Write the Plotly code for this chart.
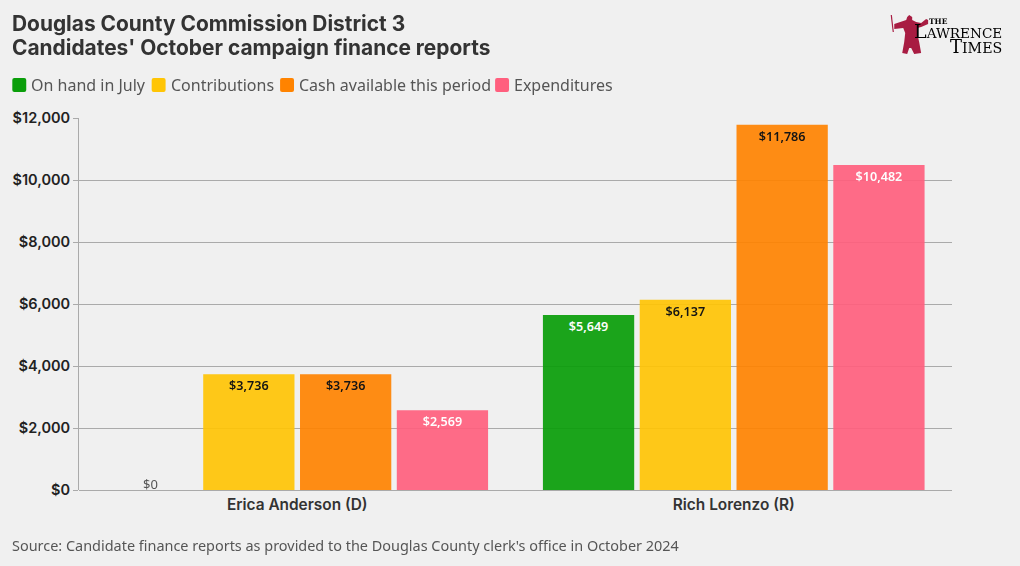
import plotly.graph_objects as go

W, H = 1020, 566
L, R, T, B = 75, 952, 118, 490
FONT = "Inter"
BODY = "Noto Sans"

candidates = ["Erica Anderson (D)", "Rich Lorenzo (R)"]
series_names = ["On hand in July", "Contributions", "Cash available this period", "Expenditures"]
on_hand = [0, 5649]
contributions = [3736, 6137]
cash_available = [3736, 11786]
expenditures = [2569, 10482]
series_values = [on_hand, contributions, cash_available, expenditures]
colors = ["#0a9e0a", "#ffc505", "#ff8300", "#ff5f7e"]
label_colors = ["#ffffff", "#000000", "#000000", "#ffffff"]
tick_values = [0, 2000, 4000, 6000, 8000, 10000, 12000]
tick_labels = ["$0", "$2,000", "$4,000", "$6,000", "$8,000", "$10,000", "$12,000"]
title_lines = ["Douglas County Commission District 3", "Candidates' October campaign finance reports"]
legend_swatch_x = [8, 148, 277, 493]
legend_text_x = [28.5, 169.5, 298, 514]

def px(x): return (x - L) / (R - L)
def py(y): return (B - y) / (B - T)

fig = go.Figure()
for name, vals, col, lc in zip(series_names, series_values, colors, label_colors):
    fig.add_bar(
        name=name, x=candidates, y=vals, marker=dict(color=col, line_width=0), opacity=0.92,
        text=[f"${v:,}" if v else "" for v in vals],
        textposition="inside",
        insidetextanchor="end", textangle=0, cliponaxis=False,
        insidetextfont=dict(family=BODY, size=12.6, color=lc, weight=600),
        hoverinfo="skip",
    )

shapes, ann = [], []
for sx, tx, name, col in zip(legend_swatch_x, legend_text_x, series_names, colors):
    x0, x1, y0, y1, r = sx, sx + 14, 78, 92, 2
    path = (f"M {px(x0+r)} {py(y0)} L {px(x1-r)} {py(y0)} Q {px(x1)} {py(y0)} {px(x1)} {py(y0+r)} "
            f"L {px(x1)} {py(y1-r)} Q {px(x1)} {py(y1)} {px(x1-r)} {py(y1)} "
            f"L {px(x0+r)} {py(y1)} Q {px(x0)} {py(y1)} {px(x0)} {py(y1-r)} "
            f"L {px(x0)} {py(y0+r)} Q {px(x0)} {py(y0)} {px(x0+r)} {py(y0)} Z")
    shapes.append(dict(type="path", xref="paper", yref="paper", path=path, fillcolor=col, line_width=0, layer="above"))
    ann.append(dict(xref="paper", yref="paper", x=px(tx), y=py(85), xanchor="left", yanchor="middle", showarrow=False,
                    text=name, font=dict(family=BODY, size=16, color="#555555"), xshift=-4))

# zero-value label sits just above the axis
ann.append(dict(xref="x", yref="y", x=0, y=on_hand[0], xanchor="center", yanchor="bottom", showarrow=False,
                xshift=-147, yshift=-5, text=f"${on_hand[0]:,}",
                font=dict(family=BODY, size=13, color="#555555")))

# text blocks
for line, y in zip(title_lines, [23, 48]):
    ann.append(dict(xref="paper", yref="paper", x=px(11), y=py(y), xanchor="left", yanchor="middle", align="left", showarrow=False,
                    xshift=-5, text=f"<b>{line}</b>", font=dict(family=FONT, size=20.9, color="#333333")))
ann.append(dict(xref="paper", yref="paper", x=px(11), y=py(545.5), xanchor="left", yanchor="middle", showarrow=False,
                xshift=-5, text="Source: Candidate finance reports as provided to the Douglas County clerk's office in October 2024",
                font=dict(family=BODY, size=14.45, color="#555555")))
# logo wordmark
logo_font = "DejaVu Serif"
ann.append(dict(xref="paper", yref="paper", x=px(927), y=py(21), xanchor="left", yanchor="middle", showarrow=False,
                text="THE", font=dict(family=logo_font, size=7.5, color="#000000", weight=700)))
ann.append(dict(xref="paper", yref="paper", x=px(1004), y=py(31), xanchor="right", yanchor="middle", showarrow=False,
                text='<span style="font-size:19px">L</span>AWRENCE', font=dict(family=logo_font, size=13.6, color="#000000")))
ann.append(dict(xref="paper", yref="paper", x=px(1004), y=py(46.5), xanchor="right", yanchor="middle", showarrow=False,
                text='<span style="font-size:18px">T</span>IMES', font=dict(family=logo_font, size=14.2, color="#000000")))
# logo silhouette
fig_pts = [(894,24),(903,21),(906,20),(907,17),(909,15),(912,17),(912,20),(916,22),(921,23),(926,19),(928,20),(928,24),(921,27),(917,28),(917,33),(919,42),(921,53),(914,54),(911,48),(909,48),(907,54),(902,53),(904,42),(905,33),(903,28),(894,29)]
logo = "M " + " L ".join(f"{px(a)} {py(b)}" for a, b in fig_pts) + " Z"
shapes.append(dict(type="path", xref="paper", yref="paper", path=logo, fillcolor="#a81c42", line_width=0, layer="above"))
shapes.append(dict(type="line", xref="paper", yref="paper", x0=px(891), y0=py(15), x1=px(893), y1=py(32),
                   line=dict(color="#a81c42", width=1.2), layer="above"))

fig.update_layout(
    width=W, height=H, autosize=False,
    margin=dict(l=L, r=W - R, t=T, b=H - B, pad=0),
    paper_bgcolor="#f0f0f0", plot_bgcolor="#f0f0f0",
    barmode="group", bargap=0.113, bargroupgap=0.057,
    showlegend=False, shapes=shapes, annotations=ann,
    font=dict(family=FONT),
    xaxis=dict(type="category", showgrid=False, ticks="", zeroline=False, showline=False,
               tickfont=dict(family=FONT, size=15.4, color="#333333", weight=600), ticklabelstandoff=4),
    yaxis=dict(range=[0, 12000], tickvals=tick_values, ticktext=tick_labels, showgrid=True, gridcolor="#aaaaaa", gridwidth=1,
               zeroline=True, zerolinecolor="#aaaaaa", zerolinewidth=1,
               showline=True, linecolor="#aaaaaa", linewidth=1, ticks="outside", ticklen=5, tickcolor="#aaaaaa",
               tickfont=dict(family=FONT, size=14.5, color="#222222", weight=600)),
)
fig.write_html("out.html", config={"displayModeBar": False}, post_script="document.body.style.margin='0';")
